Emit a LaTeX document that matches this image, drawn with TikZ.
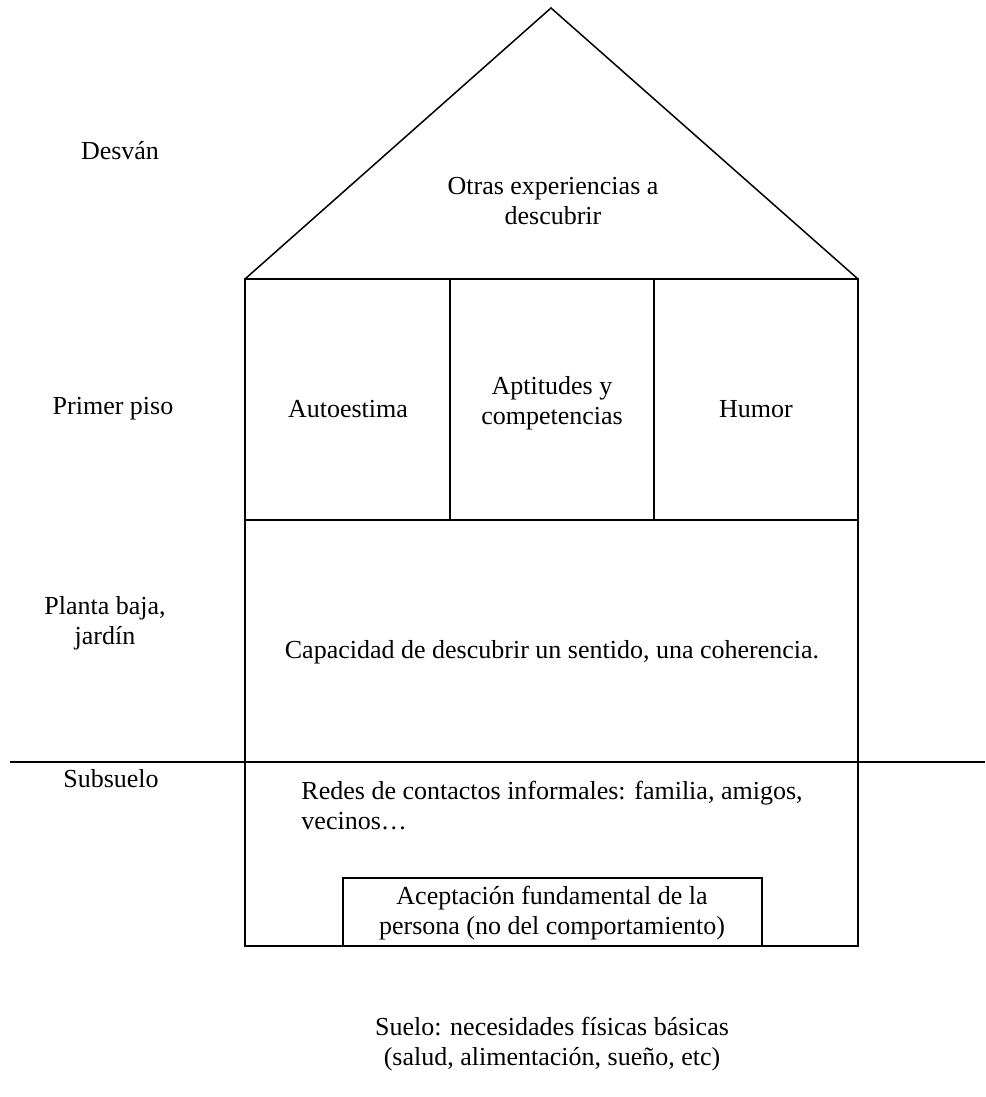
\documentclass[tikz,border=0pt]{standalone}
\usepackage{fontspec}
\setmainfont{Liberation Serif}
\begin{document}
\begin{tikzpicture}[x=1pt,y=-1pt,
  lbl/.style={inner sep=0pt, align=center, font=\fontsize{26}{30}\selectfont},
  wall/.style={line width=1.5pt, black}]
\useasboundingbox (0,0) rectangle (985,1097);
% named corner points
\coordinate (apex) at (551,8);
\coordinate (rl) at (245,279);
\coordinate (rr) at (858,279);
\coordinate (d1t) at (450,279);
\coordinate (d1b) at (450,520);
\coordinate (d2t) at (654,279);
\coordinate (d2b) at (654,520);
\coordinate (fl) at (245,520);
\coordinate (fr) at (858,520);
\coordinate (gl) at (10,762);
\coordinate (gr) at (985,762);
\coordinate (bl) at (245,946);
\coordinate (br) at (858,946);
\coordinate (il) at (343,946);
\coordinate (itl) at (343,878);
\coordinate (itr) at (762,878);
\coordinate (ir) at (762,946);
% roof and walls
\draw[wall] (rl) -- (apex) -- (rr);
\draw[wall] (rl) -- (rr) -- (br) -- (bl) -- cycle;
\draw[wall] (d1t) -- (d1b);
\draw[wall] (d2t) -- (d2b);
\draw[wall] (fl) -- (fr);
\draw[wall] (gl) -- (gr);
\draw[wall] (il) -- (itl) -- (itr) -- (ir);
% side labels
\node[lbl] (desvan) at (120,151) {Desván};
\node[lbl] (primer) at (113,409) {Primer piso};
\node[lbl] (planta) at (105,623) {Planta baja,\\jardín};
\node[lbl] (subsuelo) at (111,779) {Subsuelo};
% contents
\node[lbl] (otras) at (553,201) {Otras experiencias a\\descubrir};
\node[lbl] (auto) at (348,409) {Autoestima};
\node[lbl] (apt) at (552,403) {Aptitudes y\\competencias};
\node[lbl] (humor) at (756,409) {Humor};
\node[lbl] (capac) at (552,652) {Capacidad de descubrir un sentido, una coherencia.};
\node[lbl, align=left] (redes) at (552,806) {Redes de contactos informales: familia, amigos,\\vecinos…};
\node[lbl] (acep) at (552,913) {Aceptación fundamental de la\\persona (no del comportamiento)};
\node[lbl] (suelo) at (552,1044) {Suelo: necesidades físicas básicas\\(salud, alimentación, sueño, etc)};
\end{tikzpicture}
\end{document}
